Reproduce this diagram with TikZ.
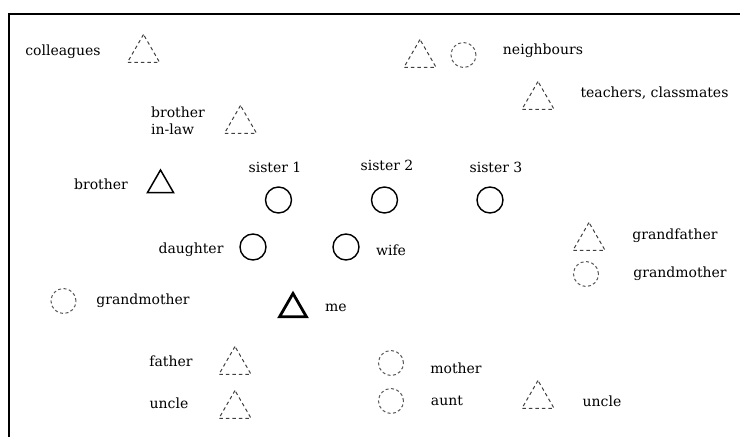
\documentclass[tikz,border=0pt]{standalone}
\usepackage{fontspec}
\setmainfont{DejaVu Serif}
\usepackage{tikz}
\usetikzlibrary{shapes.geometric}
\tikzset{
  lbl/.style={font=\fontsize{14}{17}\selectfont, inner sep=0pt},
  tri/.style={regular polygon, regular polygon sides=3, draw, line width=1.5pt,
    minimum size=30pt, inner sep=0pt},
  ring/.style={circle, draw, line width=1.4pt, minimum size=26pt, inner sep=0pt},
  dtri/.style={regular polygon, regular polygon sides=3, draw=black!75, line width=1pt,
    dash pattern=on 3.5pt off 3pt, minimum size=37pt, inner sep=0pt},
  dring/.style={circle, draw=black!65, line width=1pt, dash pattern=on 3pt off 2.5pt,
    minimum size=25pt, inner sep=0pt}
}
\begin{document}
\begin{tikzpicture}[x=1pt,y=-1pt]
  \useasboundingbox (0,0) rectangle (740,437);
  \draw[line width=2pt] (9,437) |- (740,14);
  % top row
  \node[lbl] (colleagues) at (63,52) {colleagues};
  \node[dtri] (colleaguestri) at (143.5,53) {};
  \node[dtri] (neighbtri) at (420,58) {};
  \node[dring] (neighbring) at (463.5,55) {};
  \node[lbl] (neighbours) at (543,51) {neighbours};
  \node[dtri] (teachtri) at (538,100) {};
  \node[lbl] (teachers) at (654.5,93) {teachers, classmates};
  \node[lbl, align=left] (brotherinlaw) at (178,121) {brother\\in-law};
  \node[dtri] (brotherinlawtri) at (240.5,124) {};
  % siblings
  \node[lbl] (brother) at (101,184) {brother};
  \node[tri] (brothertri) at (160.5,185) {};
  \node[lbl] (sisterone) at (275,167) {sister 1};
  \node[lbl] (sistertwo) at (387,165) {sister 2};
  \node[lbl] (sisterthree) at (496,167) {sister 3};
  \node[ring] (sisteronering) at (278.5,200) {};
  \node[ring] (sistertworing) at (384.5,200) {};
  \node[ring] (sisterthreering) at (490,200) {};
  % household
  \node[lbl] (daughter) at (191,250) {daughter};
  \node[ring] (daughterring) at (253,247) {};
  \node[ring] (wifering) at (346,247) {};
  \node[lbl] (wife) at (391,250) {wife};
  \node[tri, line width=2.8pt, minimum size=31pt] (metri) at (293,309) {};
  \node[lbl] (me) at (336,308) {me};
  % grandparents
  \node[dring] (grandmaring) at (63.5,301) {};
  \node[lbl] (grandma) at (143,301) {grandmother};
  \node[dtri] (grandpatri) at (589,241) {};
  \node[lbl] (grandpa) at (675,236) {grandfather};
  \node[dring] (grandmaringtwo) at (586,274) {};
  \node[lbl] (grandmatwo) at (680,274) {grandmother};
  % parents, uncles, aunt
  \node[lbl] (father) at (171,361) {father};
  \node[dtri] (fathertri) at (235,365) {};
  \node[lbl] (uncle) at (169,403) {uncle};
  \node[dtri] (uncletri) at (235,409) {};
  \node[dring] (motherring) at (391,363) {};
  \node[lbl] (mother) at (456,368) {mother};
  \node[dring] (auntring) at (391,401) {};
  \node[lbl] (aunt) at (447,401) {aunt};
  \node[dtri] (uncletritwo) at (538,399) {};
  \node[lbl] (uncletwo) at (602,401) {uncle};
\end{tikzpicture}
\end{document}
